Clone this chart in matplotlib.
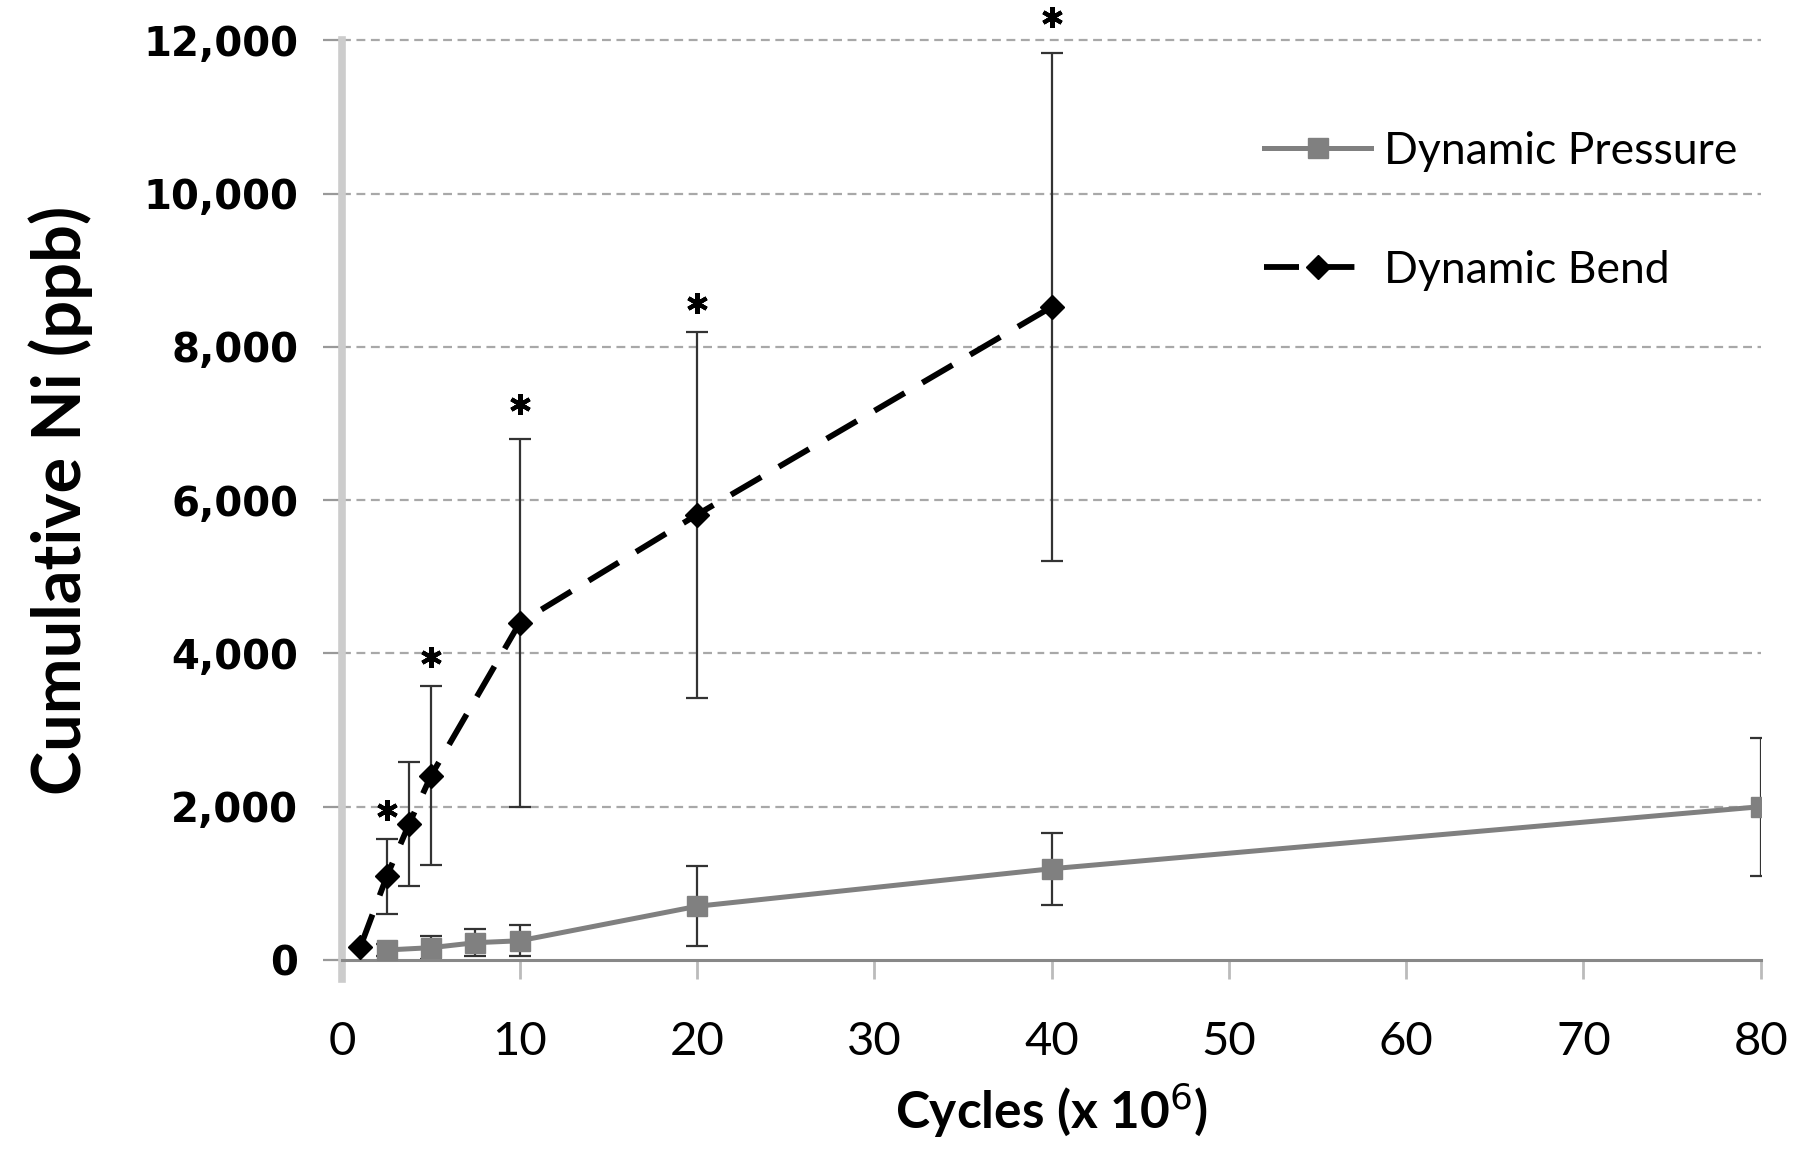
import matplotlib
matplotlib.use("Agg")
import matplotlib.pyplot as plt

# Dynamic Pressure
press_x = [2.5, 5, 7.5, 10, 20, 40, 80]
press_y = [130, 160, 225, 250, 700, 1190, 2000]
press_err = [80, 150, 180, 200, 520, 470, 900]

# Dynamic Bend
bend_x = [1, 2.5, 3.75, 5, 10, 20, 40]
bend_y = [165, 1090, 1770, 2405, 4400, 5810, 8520]
bend_err = [0, 490, 810, 1170, 2400, 2390, 3320]

# significance markers
star_x = [2.5, 5, 10, 20, 40]
star_y = [1960, 3950, 7250, 8570, 12300]

x_ticks = [0, 10, 20, 30, 40, 50, 60, 70, 80]
y_ticks = [0, 2000, 4000, 6000, 8000, 10000, 12000]

fig = plt.figure(figsize=(17.93, 11.51), dpi=100)
ax = fig.add_axes([0.191, 0.166, 0.791, 0.799])

ax.errorbar(press_x, press_y, yerr=press_err, fmt="none",
            ecolor="#333333", elinewidth=1.6, capsize=8, capthick=1.6, zorder=2)
ax.errorbar(bend_x, bend_y, yerr=bend_err, fmt="none",
            ecolor="#333333", elinewidth=1.6, capsize=8, capthick=1.6, zorder=2)

ax.plot(press_x, press_y, color="#808080", lw=3.6, marker="s", ms=14,
        mfc="#808080", mec="#808080", label="Dynamic Pressure", zorder=3)
ax.plot(bend_x, bend_y, color="black", lw=4.2, dashes=(6, 3.5), marker="D",
        ms=12, mfc="black", mec="black", label="Dynamic Bend", zorder=4)

ax.plot(star_x, star_y, ls="none", marker=(6, 2, 0), ms=15, mew=3,
        color="black", clip_on=False, zorder=5)

ax.set_xlim(0, 80)
ax.set_ylim(0, 12000)
ax.set_xticks(x_ticks)
ax.set_yticks(y_ticks)
ax.set_yticklabels([f"{v:,}" for v in y_ticks], fontsize=29,
                   family="DejaVu Sans", fontweight="bold")
ax.set_xticklabels([str(v) for v in x_ticks], fontsize=34, family="Lato")

for y in y_ticks[1:]:
    ax.axhline(y, color="#a8a8a8", lw=1.6, dashes=(4, 2.5), zorder=1,
               clip_on=False)

for s in ["top", "right"]:
    ax.spines[s].set_visible(False)
ax.spines["left"].set_color("#cccccc")
ax.spines["left"].set_linewidth(5.5)
ax.spines["left"].set_bounds(-250, 12000)
ax.spines["bottom"].set_color("#888888")
ax.spines["bottom"].set_linewidth(2.2)
ax.tick_params(axis="y", length=14, width=1.6, color="#999999", pad=18)
ax.tick_params(axis="x", length=14, width=2, color="#bbbbbb", pad=30)

ax.set_xlabel("Cycles (x 10$^6$)", fontsize=37, family="Lato",
              fontweight="bold", labelpad=12)
ax.set_ylabel("Cumulative Ni (ppb)", fontsize=48, family="Lato",
              fontweight="bold", labelpad=36)

leg = ax.legend(loc="upper right", bbox_to_anchor=(1.012, 0.945), frameon=False,
                prop={"family": "Lato", "size": 32}, handlelength=2.4,
                labelspacing=1.75, handletextpad=0.3)

fig.savefig("out.png", dpi=100)
